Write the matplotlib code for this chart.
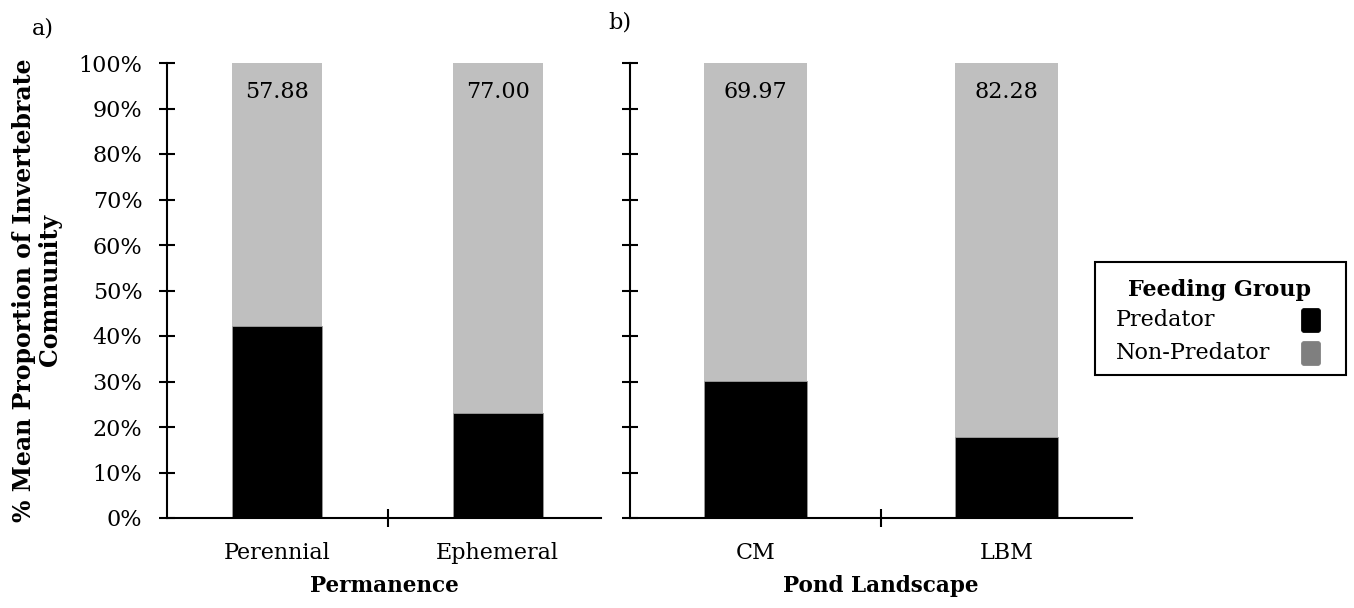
import matplotlib
matplotlib.use("Agg")
import matplotlib.pyplot as plt
from matplotlib.patches import Rectangle, FancyBboxPatch

plt.rcParams["font.family"] = ["DejaVu Serif"]

# Panel a: permanence
perm_categories = ["Perennial", "Ephemeral"]
perm_non_predator = [57.88, 77.00]
perm_predator = [100 - v for v in perm_non_predator]

# Panel b: pond landscape
land_categories = ["CM", "LBM"]
land_non_predator = [69.97, 82.28]
land_predator = [100 - v for v in land_non_predator]

y_ticks = list(range(0, 101, 10))
y_tick_labels = [f"{t}%" for t in y_ticks]

series_names = ["Predator", "Non-Predator"]
bar_colors = ["#000000", "#bfbfbf"]
legend_colors = ["#000000", "#7f7f7f"]

W, H = 1354, 608
fig = plt.figure(figsize=(W / 100, H / 100), dpi=100)


def px_axes(x0, x1, y_top, y_bot):
    return fig.add_axes([x0 / W, 1 - y_bot / H, (x1 - x0) / W, (y_bot - y_top) / H])


def draw_panel(ax, cats, pred, nonpred, xmax, xlabel, show_labels):
    x = list(range(len(cats)))
    ax.bar(x, pred, width=0.41, color=bar_colors[0], edgecolor="#9a9a9a",
           linewidth=0.6, zorder=2)
    ax.bar(x, nonpred, width=0.41, bottom=pred, color=bar_colors[1],
           linewidth=0, zorder=2)
    for xi, v in zip(x, nonpred):
        ax.annotate(f"{v:.2f}", xy=(xi, 100), xytext=(0, -21),
                    textcoords="offset points", ha="center", va="center",
                    fontsize=16, zorder=3)
    ax.set_xlim(-0.5, xmax)
    ax.set_ylim(0, 100)
    for s in ["top", "right"]:
        ax.spines[s].set_visible(False)
    for s in ["left", "bottom"]:
        ax.spines[s].set_linewidth(1.5)
    ax.set_yticks(y_ticks)
    if show_labels:
        ax.set_yticklabels(y_tick_labels)
    else:
        ax.set_yticklabels([])
    ax.tick_params(axis="y", direction="inout", length=11.5, width=1.5,
                   labelsize=16, pad=12)
    # category separator ticks on major, category names on minor
    ax.set_xticks([0.5])
    ax.set_xticklabels([])
    ax.tick_params(axis="x", which="major", direction="inout", length=13.5,
                   width=1.5)
    ax.set_xticks(x, minor=True)
    ax.set_xticklabels(cats, minor=True)
    ax.tick_params(axis="x", which="minor", length=0, labelsize=16, pad=17)
    ax.set_xlabel(xlabel, fontsize=15.5, fontweight="bold", labelpad=8)


ax_a = px_axes(167, 601, 63, 518)
draw_panel(ax_a, perm_categories, perm_predator, perm_non_predator, 1.468,
           "Permanence", True)

ax_b = px_axes(630, 1132, 63, 518)
draw_panel(ax_b, land_categories, land_predator, land_non_predator, 1.5,
           "Pond Landscape", False)

fig.text(43 / W, 1 - 28 / H, "a)", fontsize=16, ha="center", va="center")
fig.text(620 / W, 1 - 23 / H, "b)", fontsize=16, ha="center", va="center")

fig.text(37 / W, 1 - 290 / H, "% Mean Proportion of Invertebrate\nCommunity",
         rotation=90, ha="center", va="center", multialignment="center",
         fontsize=17, fontweight="bold", linespacing=1.1)


def fx(v):
    return v / W


def fy(v):
    return 1 - v / H


# Legend box drawn in pixel coordinates
fig.patches.append(Rectangle((fx(1095), fy(375)), (1346 - 1095) / W,
                             (375 - 262) / H, transform=fig.transFigure,
                             facecolor="white", edgecolor="black",
                             linewidth=1.5))
fig.text(fx(1220), fy(290), "Feeding Group", fontsize=16, fontweight="bold",
         ha="center", va="center")
row_y = [320, 353]
for name, col, yc in zip(series_names, legend_colors, row_y):
    fig.text(fx(1116), fy(yc), name, fontsize=16, ha="left", va="center")
    fig.patches.append(FancyBboxPatch(
        (fx(1303), fy(yc + 11)), 16 / W, 21 / H,
        boxstyle="round,pad=0.0012,rounding_size=0.0025",
        transform=fig.transFigure, facecolor=col, edgecolor=col,
        linewidth=0.5, mutation_aspect=W / H))

fig.savefig("out.png", dpi=100)
